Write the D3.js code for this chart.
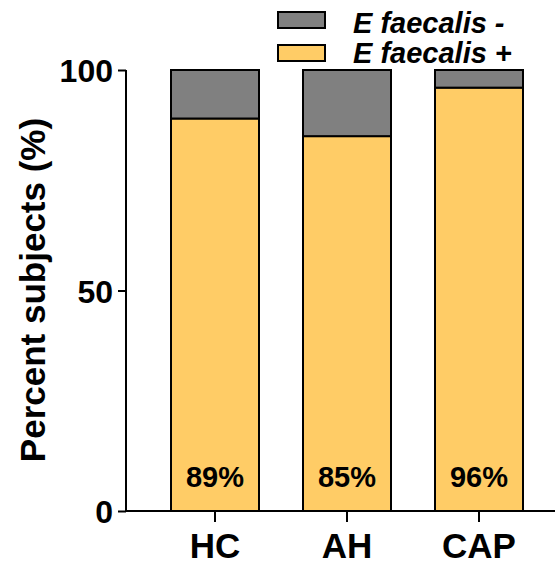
<!DOCTYPE html>
<html><head><meta charset="utf-8">
<script src="https://cdn.jsdelivr.net/npm/d3@7"></script>
<style>body{margin:0;background:#fff}svg{display:block;font-family:"Liberation Sans",Arial,sans-serif}</style>
</head><body>
<script>
const categories = ["HC","AH","CAP"];
const positive = [89,85,96];
const negative = [11,15,4];
const labels = ["89%","85%","96%"];
const yTicks = [0,50,100];
const seriesNames = ["E faecalis -","E faecalis +"];
const colors = ["#808080","#FFCC66"];

const W=555,H=567;
const FF="Liberation Sans, Arial, sans-serif";
const svg=d3.select("body").append("svg").attr("width",W).attr("height",H);
const x=d3.scaleBand().domain(categories).range([149,545]).paddingInner(1/3).paddingOuter(1/6);
const y=d3.scaleLinear().domain([0,100]).range([511,70]);

const g=svg.append("g");
categories.forEach((c,i)=>{
  g.append("rect").attr("x",x(c)).attr("width",x.bandwidth())
   .attr("y",y(positive[i])).attr("height",y(0)-y(positive[i]))
   .attr("fill",colors[1]).attr("stroke","#000").attr("stroke-width",2);
  g.append("rect").attr("x",x(c)).attr("width",x.bandwidth())
   .attr("y",y(positive[i]+negative[i])).attr("height",y(positive[i])-y(positive[i]+negative[i]))
   .attr("fill",colors[0]).attr("stroke","#000").attr("stroke-width",2);
  g.append("text").attr("x",x(c)+x.bandwidth()/2).attr("y",487)
   .attr("text-anchor","middle").attr("font-size",29).attr("font-weight","bold").text(labels[i]);
});

// y axis
const ya=svg.append("g").attr("transform","translate(126,0)")
  .call(d3.axisLeft(y).tickValues(yTicks).tickSize(8).tickPadding(5).tickFormat(d3.format("d")));
ya.select(".domain").attr("stroke","#000").attr("stroke-width",2).attr("d","M0,"+y(100)+"V"+(y(0)+1));
ya.selectAll(".tick line").attr("stroke-width",2);
ya.selectAll("text").attr("font-size",32).attr("font-weight","bold").attr("font-family",FF).attr("dy","0.36em");

// x axis
const xa=svg.append("g").attr("transform","translate(0,511)")
  .call(d3.axisBottom(x).tickSize(11).tickPadding(11));
xa.select(".domain").attr("stroke-width",2).attr("d","M125,0H555");
xa.selectAll(".tick line").attr("stroke-width",2);
xa.selectAll("text").attr("font-size",35).attr("font-weight","bold").attr("font-family",FF);

// y label
svg.append("text").attr("transform","translate(45,290) rotate(-90)")
  .attr("text-anchor","middle").attr("font-size",35).attr("font-weight","bold").text("Percent subjects (%)");

// legend
seriesNames.forEach((s,i)=>{
  svg.append("rect").attr("x",278).attr("y",12+i*33).attr("width",47).attr("height",16)
    .attr("fill",colors[i]).attr("stroke","#000").attr("stroke-width",2);
  svg.append("text").attr("x",353).attr("y",33+i*30).attr("font-size",29).attr("font-weight","bold")
    .attr("font-style","italic").text(s);
});
</script>
</body></html>
